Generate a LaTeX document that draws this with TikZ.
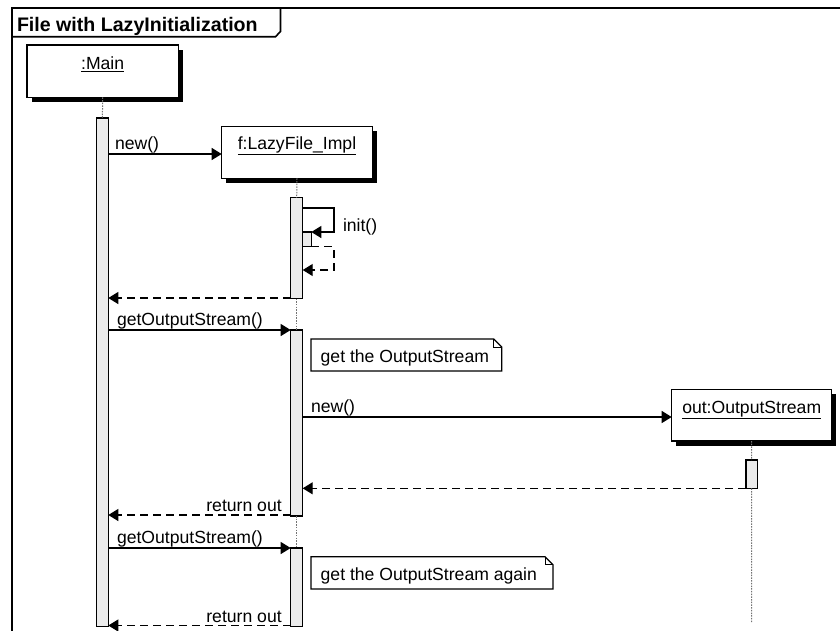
\documentclass[tikz,border=0pt]{standalone}
\usepackage{fontspec}
\setmainfont{Liberation Sans}
\usetikzlibrary{arrows.meta,shadows}
\begin{document}
\begin{tikzpicture}[x=1pt,y=-1pt,
  every node/.style={inner sep=0pt, outer sep=0pt},
  lbl/.style={font=\fontsize{17.6}{20}\selectfont, anchor=base west},
  objbox/.style={draw=black, line width=1.4pt, fill=white,
     drop shadow={shadow xshift=4.5pt, shadow yshift=-4.5pt, fill=black, opacity=1}},
  actbar/.style={draw=black, line width=1.3pt, fill=black!8},
  lifeline/.style={draw=black!55, line width=1pt, dash pattern=on 1.5pt off 1.2pt},
  msg/.style={draw=black, line width=1.2pt, -{Triangle[length=10pt,width=12pt]}},
  ret/.style={msg, dash pattern=on 8pt off 5pt},
  notebox/.style={draw=black, line width=1.2pt, fill=white}
]
\useasboundingbox (0,0) rectangle (840,630);
% frame
\draw[line width=2pt] (840,7.5) -- (12,7.5) -- (12,631);
\draw[line width=1.6pt] (12,36.7) -- (275.5,36.7) -- (280.5,31.5) -- (280.5,7.5);
\node[font=\bfseries\fontsize{19.6}{22}\selectfont, anchor=base west] (title) at (17,31) {File with LazyInitialization};

% objects
\node[objbox, minimum width=151.3pt, minimum height=52.3pt] (main) at (102.65,71.15) {};
\node[lbl, anchor=base] (mainlbl) at ([yshift=-24.5pt]main.north) {\underline{:Main}};
\node[objbox, minimum width=150.6pt, minimum height=51.6pt] (fbox) at (297,152.5) {};
\node[lbl, anchor=base] (flbl) at ([yshift=-22.8pt]fbox.north) {\underline{f:LazyFile\_Impl}};
\node[objbox, minimum width=160pt, minimum height=51.7pt] (obox) at (751.7,415.15) {};
\node[lbl, anchor=base] (olbl) at ([yshift=-24pt]obox.north) {\underline{out:OutputStream}};

% activation bars
\node[actbar, minimum width=11.8pt, minimum height=508.5pt] (mbar) at (102.4,372.25) {};
\node[actbar, minimum width=12pt, minimum height=100.8pt] (fbarA) at (296.7,248.1) {};
\node[actbar, minimum width=8.6pt, minimum height=14.7pt] (nbar) at (307,239.35) {};
\node[actbar, minimum width=12pt, minimum height=186pt] (fbarB) at (296.7,423) {};
\node[actbar, minimum width=12pt, minimum height=78.5pt] (fbarC) at (296.7,587.25) {};
\node[actbar, minimum width=11.3pt, minimum height=28.3pt] (obar) at (751.65,474.15) {};

% lifelines
\coordinate (oend) at (751.7,623);
\draw[lifeline] (main.south) -- (mbar.north);
\draw[lifeline] (fbox.south) -- (fbarA.north);
\draw[lifeline] (fbarA.south) -- (fbarB.north);
\draw[lifeline] (fbarB.south) -- (fbarC.north);
\draw[lifeline] (obox.south) -- (obar.north);
\draw[lifeline] (obar.south) -- (oend);

% message levels
\coordinate (y1) at (0,154);
\coordinate (s1) at (0,208);
\coordinate (s3) at (0,270);
\coordinate (sxr) at (334,0);
\coordinate (r1) at (0,298);
\coordinate (y2) at (0,330);
\coordinate (y3) at (0,417);
\coordinate (r3) at (0,515);
\coordinate (y4) at (0,548);
\coordinate (r4) at (0,625.5);

% new()
\draw[msg] (mbar.east |- y1) -- (fbox.west |- y1);
\node[lbl] (l1) at (115,149.5) {new()};
% init()
\draw[msg] (fbarA.east |- s1) -| (sxr |- nbar.north) -- (nbar.north east);
\node[lbl] (l2) at (343,231) {init()};
\draw[ret] (nbar.south east) -| (sxr |- s3) -- (fbarA.east |- s3);
% return
\draw[ret] (fbarA.west |- r1) -- (mbar.east |- r1);
% getOutputStream()
\draw[msg] (mbar.east |- y2) -- (fbarB.west |- y2);
\node[lbl] (l3) at (117,325) {getOutputStream()};
% note 1
\node[minimum width=190.7pt, minimum height=32pt, anchor=north west] (n1) at (311,339) {};
\draw[notebox] (n1.north west) -- ([xshift=-8pt]n1.north east) -- ([yshift=-8pt]n1.north east) -- (n1.south east) -- (n1.south west) -- cycle;
\draw[line width=1pt] ([xshift=-8pt]n1.north east) -- ([xshift=-8pt,yshift=-8pt]n1.north east) -- ([yshift=-8pt]n1.north east);
\node[lbl] (n1t) at (320.7,362) {get the OutputStream};
% new() out
\draw[msg] (fbarB.east |- y3) -- (obox.west |- y3);
\node[lbl] (l4) at (311,412.5) {new()};
\draw[ret] (obar.south west) -- (fbarB.east |- obar.south);
% return out
\draw[ret] (fbarB.west |- r3) -- (mbar.east |- r3);
\node[lbl, anchor=base east] (l5) at (281.7,511) {return out};
% second call
\draw[msg] (mbar.east |- y4) -- (fbarC.west |- y4);
\node[lbl] (l6) at (117,543) {getOutputStream()};
\node[minimum width=242pt, minimum height=32.3pt, anchor=north west] (n2) at (311,556.7) {};
\draw[notebox] (n2.north west) -- ([xshift=-8pt]n2.north east) -- ([yshift=-8pt]n2.north east) -- (n2.south east) -- (n2.south west) -- cycle;
\draw[line width=1pt] ([xshift=-8pt]n2.north east) -- ([xshift=-8pt,yshift=-8pt]n2.north east) -- ([yshift=-8pt]n2.north east);
\node[lbl] (n2t) at (320.7,580) {get the OutputStream again};
\draw[ret] (fbarC.west |- r4) -- (mbar.east |- r4);
\node[lbl, anchor=base east] (l7) at (281.7,622) {return out};
\end{tikzpicture}
\end{document}
